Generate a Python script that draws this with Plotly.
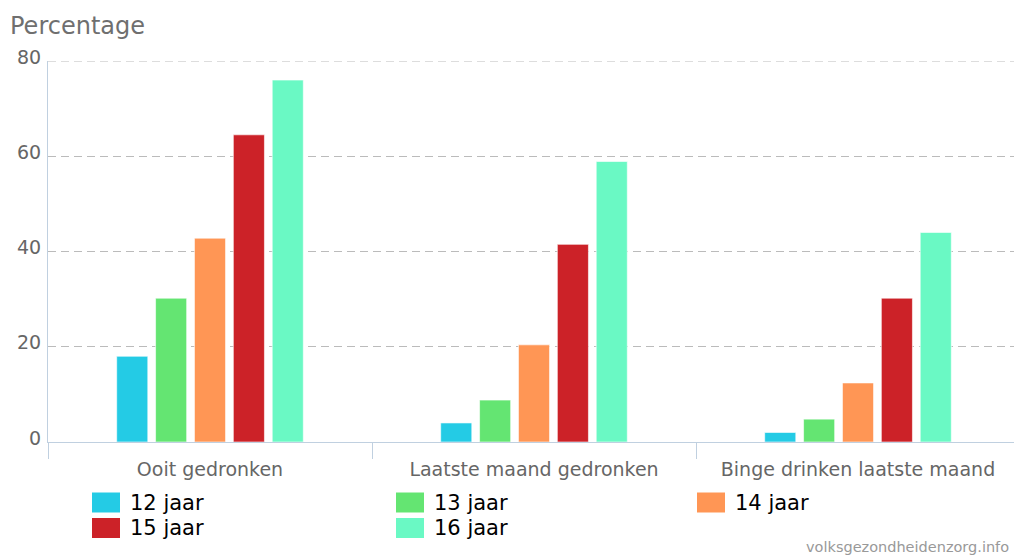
import plotly.graph_objects as go

categories = ["Ooit gedronken", "Laatste maand gedronken", "Binge drinken laatste maand"]
series_names = ["12 jaar", "13 jaar", "14 jaar", "15 jaar", "16 jaar"]
values_12 = [18, 4, 2]
values_13 = [30.2, 8.8, 4.8]
values_14 = [42.8, 20.4, 12.4]
values_15 = [64.5, 41.5, 30.2]
values_16 = [76, 58.9, 44]
series_values = [values_12, values_13, values_14, values_15, values_16]
colors = ["#24CBE5", "#64E572", "#FF9655", "#CC2228", "#6AF9C4"]
y_ticks = [0, 20, 40, 60, 80]
y_max = 80

fig = go.Figure()
for name, vals, col in zip(series_names, series_values, colors):
    fig.add_trace(go.Bar(
        x=categories, y=vals, name=name,
        marker=dict(color=col, line=dict(color="rgba(255,255,255,0.6)", width=1)),
        showlegend=False, hoverinfo="x+y+name",
    ))

# the page body adds an 8px offset; lay out in window pixels and convert
OFF = 8
W, H = 1014, 550
ml, mr, mt, mb = 40, 2, 53, 116
pw, ph = W - ml - mr, H - mt - mb


def px(xw):
    return (xw - OFF - ml) / pw


def py(yw):
    return (H - mb - (yw - OFF)) / ph


GRID = dict(color="#BBBBBB", width=1, dash="8px,5px")

col_x = [92, 396, 697]
row_y = [502.5, 528]
shapes = [dict(type="line", xref="paper", yref="y", x0=0, x1=1, y0=y_max, y1=y_max,
               line=GRID, layer="below")]
annotations = []
for i, (name, col) in enumerate(zip(series_names, colors)):
    cx = col_x[i % 3]
    cy = row_y[i // 3]
    shapes.append(dict(type="rect", xref="paper", yref="paper",
                       x0=px(cx), x1=px(cx + 28), y0=py(cy + 10), y1=py(cy - 10),
                       fillcolor=col, line=dict(width=0)))
    annotations.append(dict(text=name, xref="paper", yref="paper",
                            x=px(cx + 36), y=py(cy), xanchor="left", yanchor="middle",
                            showarrow=False,
                            font=dict(family="DejaVu Sans", size=21, color="#000000")))

annotations.append(dict(text="Percentage", xref="paper", yref="paper",
                        x=px(8), y=py(26), xanchor="left", yanchor="middle",
                        showarrow=False, font=dict(family="DejaVu Sans", size=24, color="#6f6f6f")))
annotations.append(dict(text="volksgezondheidenzorg.info", xref="paper", yref="paper",
                        x=px(1011), y=py(547), xanchor="right", yanchor="middle",
                        showarrow=False, font=dict(family="DejaVu Sans", size=14.5, color="#999999")))

fig.update_layout(
    width=W, height=H,
    margin=dict(l=ml, r=mr, t=mt, b=mb),
    paper_bgcolor="white", plot_bgcolor="white",
    barmode="group", bargap=0.4, bargroupgap=0.2,
    font=dict(family="DejaVu Sans", color="#666666"),
    shapes=shapes, annotations=annotations,
    xaxis=dict(
        type="category", showgrid=False, showline=True, linecolor="#C0D0E0", linewidth=1,
        ticks="outside", tickson="boundaries", ticklen=16, tickcolor="#C0D0E0",
        tickfont=dict(family="DejaVu Sans", size=19, color="#666666"),
        ticklabelstandoff=10, zeroline=False,
    ),
    yaxis=dict(
        range=[0, y_max], tickvals=y_ticks, showgrid=True, gridcolor=GRID["color"],
        griddash=GRID["dash"], gridwidth=1, showline=True, linecolor="#C0D0E0", linewidth=1,
        zeroline=False, ticks="", ticklabelstandoff=2, ticklabelshift=-4,
        tickfont=dict(family="DejaVu Sans", size=19, color="#666666"),
    ),
)

fig.write_html("out.html")
